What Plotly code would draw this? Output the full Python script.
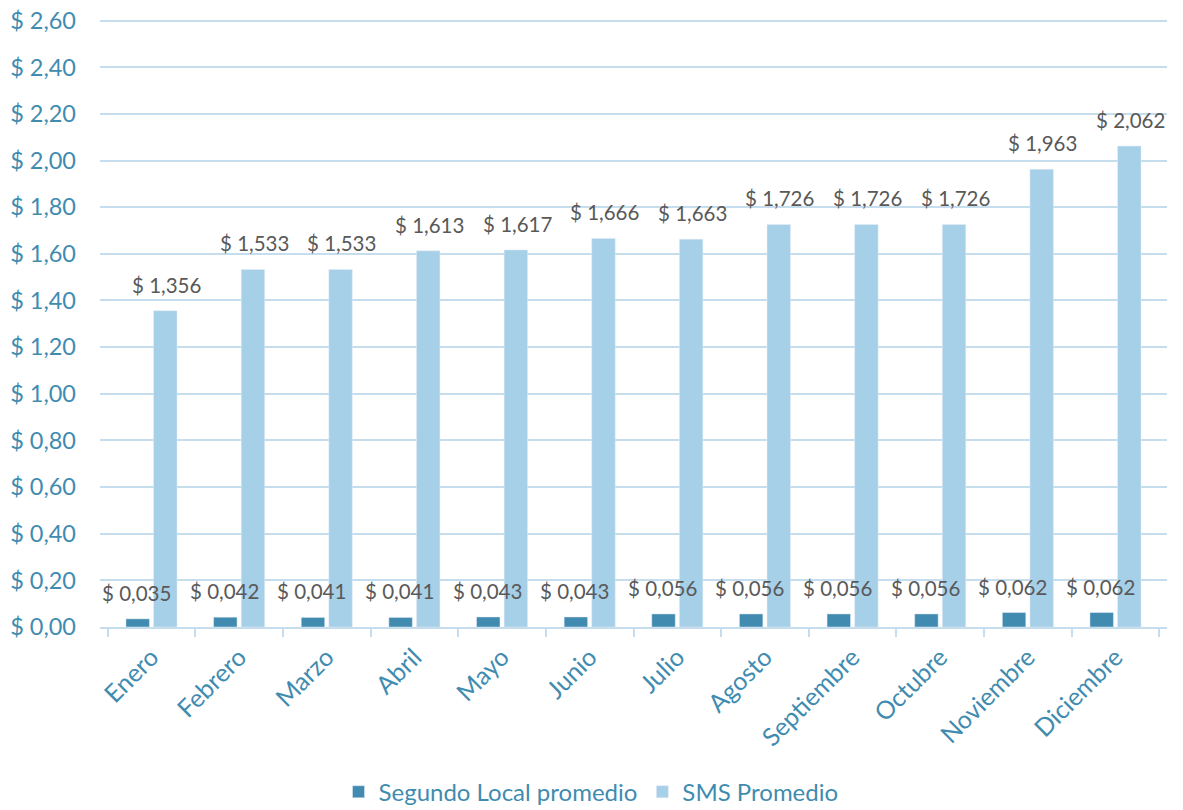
import plotly.graph_objects as go

months = ["Enero", "Febrero", "Marzo", "Abril", "Mayo", "Junio", "Julio",
          "Agosto", "Septiembre", "Octubre", "Noviembre", "Diciembre"]
segundo_local = [0.035, 0.042, 0.041, 0.041, 0.043, 0.043, 0.056,
                 0.056, 0.056, 0.056, 0.062, 0.062]
sms = [1.356, 1.533, 1.533, 1.613, 1.617, 1.666, 1.663,
       1.726, 1.726, 1.726, 1.963, 2.062]
y_ticks = [0.0, 0.2, 0.4, 0.6, 0.8, 1.0, 1.2, 1.4, 1.6, 1.8, 2.0, 2.2, 2.4, 2.6]

DARK = "#418AB0"
LIGHT = "#A6CFE8"
AXIS_TXT = "#3F8CB0"
LABEL_TXT = "#595959"
GRID = "#C5DDEC"
FONT = "Lato"


def fmt(v, d):
    return "$ " + f"{v:.{d}f}".replace(".", ",")


fig = go.Figure()
fig.add_trace(go.Bar(x=months, y=segundo_local, name="Segundo Local promedio",
                     marker_color=DARK))
fig.add_trace(go.Bar(x=months, y=sms, name="SMS Promedio", marker_color=LIGHT))

annotations = []
for i, m in enumerate(months):
    for vals, xs in ((segundo_local, -15), (sms, 15)):
        annotations.append(dict(
            x=m, y=vals[i], xref="x", yref="y", text=fmt(vals[i], 3),
            showarrow=False, xshift=xs, yshift=26, yanchor="middle",
            font=dict(family=FONT, size=20.5, color=LABEL_TXT)))

fig.update_layout(
    width=1183, height=810,
    margin=dict(l=100, r=16, t=19, b=183, autoexpand=False),
    paper_bgcolor="white", plot_bgcolor="white",
    barmode="group", bargap=0.37, bargroupgap=0.15,
    font=dict(family=FONT, size=22, color=AXIS_TXT),
    annotations=annotations,
    showlegend=True,
    legend=dict(orientation="h", xref="container", x=0.4996, xanchor="center",
                yref="container", y=0.022, yanchor="middle",
                font=dict(family=FONT, size=24, color=AXIS_TXT),
                itemwidth=30, traceorder="normal"),
)
fig.update_yaxes(range=[0, 2.607], tickvals=y_ticks,
                 ticktext=[fmt(v, 2) for v in y_ticks],
                 showgrid=True, gridcolor=GRID, gridwidth=1.5,
                 zeroline=False, showline=False, ticks="",
                 ticklabelstandoff=23, automargin=False,
                 ticklabeloverflow="allow",
                 tickfont=dict(family=FONT, size=23.5, color=AXIS_TXT))
fig.update_xaxes(showline=True, linecolor=GRID, linewidth=1.5,
                 ticks="outside", tickson="boundaries", ticklen=8,
                 tickcolor=GRID, tickwidth=1.5, tickangle=-45,
                 automargin=False, ticklabelstandoff=4,
                 ticklabeloverflow="allow",
                 tickfont=dict(family=FONT, size=25, color=AXIS_TXT))

fig.write_html("out.html", config={"displayModeBar": False},
               post_script="document.body.style.margin='0';document.body.style.overflow='hidden';")
